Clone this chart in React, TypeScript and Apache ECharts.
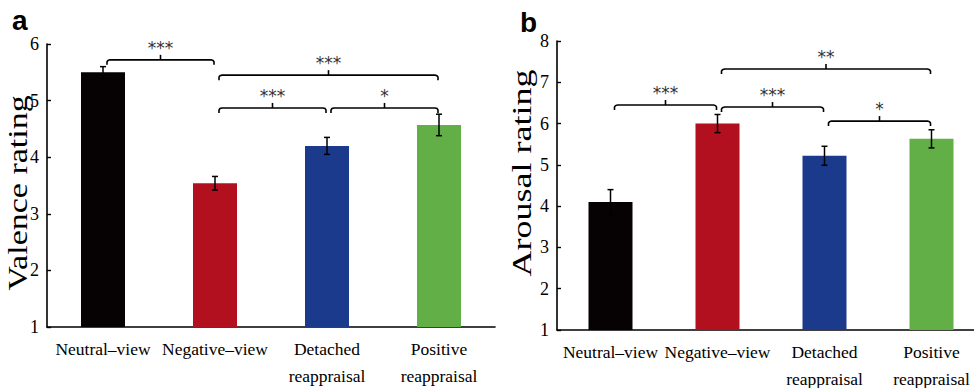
import React, { useEffect, useRef } from "react";
import * as echarts from "echarts";

const categories = ["Neutral–view", "Negative–view", "Detached\nreappraisal", "Positive\nreappraisal"];
const barColors = ["#060203", "#B20F1F", "#1C3A8B", "#62AE47"];

const valenceMeans = [5.5, 3.54, 4.2, 4.57];
const valenceErrors = [0.1, 0.12, 0.15, 0.19];
const valenceRange = [1, 6];

const arousalMeans = [4.1, 6.0, 5.22, 5.63];
const arousalErrors = [0.3, 0.22, 0.23, 0.22];
const arousalRange = [1, 8];

// [start category, end category, bracket height, significance]
const valenceBrackets: [number, number, number, string][] = [
  [0, 1, 5.72, "***"],
  [1, 3, 5.45, "***"],
  [1, 2, 4.87, "***"],
  [2, 3, 4.87, "*"],
];
const arousalBrackets: [number, number, number, string][] = [
  [0, 1, 6.45, "***"],
  [1, 3, 7.32, "**"],
  [1, 2, 6.4, "***"],
  [2, 3, 6.06, "*"],
];

const SERIF = "Liberation Serif";

function barSeries(means: number[], idx: number) {
  return {
    type: "bar",
    xAxisIndex: idx,
    yAxisIndex: idx,
    barWidth: 44,
    data: means.map((v, i) => ({ value: v, itemStyle: { color: barColors[i] } })),
    z: 2,
  };
}

function errorSeries(means: number[], errs: number[], idx: number) {
  return {
    type: "custom",
    xAxisIndex: idx,
    yAxisIndex: idx,
    z: 5,
    dimensions: ["x", "mean", "err"],
    encode: { x: 0, y: 1 },
    data: means.map((m, i) => [i, m, errs[i]]),
    renderItem: (params: any, api: any) => {
      const x = api.value(0);
      const m = api.value(1);
      const e = api.value(2);
      const top = api.coord([x, m + e]);
      const bot = api.coord([x, m - e]);
      const w = 3;
      const st = { stroke: "#000", lineWidth: 1.5 };
      return {
        type: "group",
        children: [
          { type: "line", shape: { x1: top[0], y1: top[1], x2: bot[0], y2: bot[1] }, style: st },
          { type: "line", shape: { x1: top[0] - w, y1: top[1], x2: top[0] + w, y2: top[1] }, style: st },
          { type: "line", shape: { x1: bot[0] - w, y1: bot[1], x2: bot[0] + w, y2: bot[1] }, style: st },
        ],
      };
    },
  };
}

function bracketSeries(brackets: [number, number, number, string][], idx: number) {
  return {
    type: "custom",
    xAxisIndex: idx,
    yAxisIndex: idx,
    z: 6,
    dimensions: ["s", "e", "y"],
    encode: { x: [0, 1], y: 2 },
    data: brackets.map((b) => [b[0], b[1], b[2]]),
    renderItem: (params: any, api: any) => {
      const s = api.coord([api.value(0), api.value(2)]);
      const e = api.coord([api.value(1), api.value(2)]);
      const x1 = s[0] + 4;
      const x2 = e[0] - 1;
      const y = s[1];
      const m = (x1 + x2) / 2;
      const st = { stroke: "#000", lineWidth: 1.6, fill: null };
      return {
        type: "group",
        children: [
          {
            type: "polyline",
            shape: {
              points: [
                [x1, y + 5],
                [x1, y + 2],
                [x1 + 1, y + 0.6],
                [x1 + 3, y],
                [x2 - 3, y],
                [x2 - 1, y + 0.6],
                [x2, y + 2],
                [x2, y + 5],
              ],
            },
            style: st,
          },
          { type: "line", shape: { x1: m, y1: y, x2: m, y2: y - 5 }, style: st },
          {
            type: "text",
            x: m,
            y: y - 12,
            style: {
              text: brackets[params.dataIndex][3],
              align: "center",
              verticalAlign: "middle",
              fill: "#333",
              fontFamily: "DejaVu Sans",
              fontSize: 17,
            },
          },
        ],
      };
    },
  };
}

function yTitle(text: string, x: number, y: number, size: number) {
  return {
    type: "text",
    x,
    y,
    rotation: Math.PI / 2,
    scaleX: 1,
    scaleY: 0.78,
    style: { text, fontFamily: SERIF, fontSize: size, fill: "#000", align: "center", verticalAlign: "middle" },
  };
}

export default function App() {
  const ref = useRef<HTMLDivElement>(null);
  useEffect(() => {
    document.body.style.margin = "0";
    const chart = echarts.init(ref.current!, null, { renderer: "svg" });
    const xAxisBase = {
      type: "category",
      data: categories,
      boundaryGap: true,
      axisLine: { show: true, lineStyle: { color: "#000", width: 1.6 } },
      axisTick: { show: false },
      axisLabel: {
        interval: 0,
        color: "#000",
        fontFamily: SERIF,
        fontSize: 17.5,
        lineHeight: 27,
        margin: 8,
      },
    };
    const yAxisBase = {
      type: "value",
      interval: 1,
      axisLine: { show: true, lineStyle: { color: "#000", width: 1.6 } },
      axisTick: { show: true, inside: true, length: 4, lineStyle: { color: "#000", width: 1.4 } },
      splitLine: { show: false },
      axisLabel: { color: "#000", fontFamily: SERIF, fontSize: 18, margin: 8 },
    };
    chart.setOption({
      animation: false,
      grid: [
        { left: 47, top: 44, width: 448, height: 283, containLabel: false, outerBoundsMode: "none" },
        { left: 557, top: 41, width: 428, height: 289, containLabel: false, outerBoundsMode: "none" },
      ],
      xAxis: [
        { ...xAxisBase, gridIndex: 0 },
        { ...xAxisBase, gridIndex: 1 },
      ],
      yAxis: [
        { ...yAxisBase, gridIndex: 0, min: valenceRange[0], max: valenceRange[1] },
        { ...yAxisBase, gridIndex: 1, min: arousalRange[0], max: arousalRange[1] },
      ],
      graphic: [
        {
          type: "text",
          x: 12,
          y: 34,
          style: { text: "a", fontFamily: "Liberation Sans", fontWeight: "bold", fontSize: 28, fill: "#000", verticalAlign: "bottom" },
        },
        {
          type: "text",
          x: 520,
          y: 36,
          style: { text: "b", fontFamily: "Liberation Sans", fontWeight: "bold", fontSize: 28, fill: "#000", verticalAlign: "bottom" },
        },
        yTitle("Valence rating", 18, 193, 34),
        yTitle("Arousal rating", 521, 173, 36),
      ],
      series: [
        barSeries(valenceMeans, 0),
        errorSeries(valenceMeans, valenceErrors, 0),
        bracketSeries(valenceBrackets, 0),
        barSeries(arousalMeans, 1),
        errorSeries(arousalMeans, arousalErrors, 1),
        bracketSeries(arousalBrackets, 1),
      ],
    });
    return () => chart.dispose();
  }, []);
  return <div ref={ref} style={{ position: "absolute", left: 0, top: 0, width: 974, height: 388 }} />;
}
